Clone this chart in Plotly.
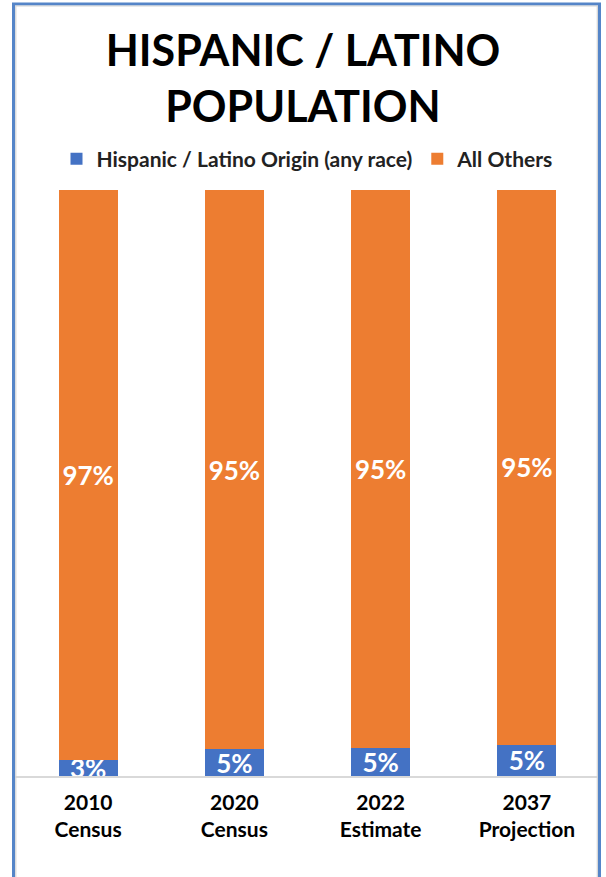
import plotly.graph_objects as go

categories = ["2010<br>Census", "2020<br>Census", "2022<br>Estimate", "2037<br>Projection"]
hispanic = [2.7, 4.6, 4.7, 5.3]
others = [97.3, 95.4, 95.3, 94.7]
series_names = ["Hispanic / Latino Origin (any race)", "All Others"]
colors = ["#4472C4", "#ED7D31"]

FONT = "Lato"
W, H = 606, 877
ML, MR, MT, MB = 15, 6, 190, 101
pw = W - ML - MR
ph = H - MT - MB

def px2paper_x(px):
    return (px - ML) / pw

def px2paper_y(py):
    return (H - MB - py) / ph

fig = go.Figure()
for name, vals, col in zip(series_names, [hispanic, others], colors):
    fig.add_trace(go.Bar(
        x=categories, y=vals, name="<b>" + name + "</b>", marker=dict(color=col, line=dict(width=0)),
        texttemplate="<b>%{y:.0f}%</b>", textposition="inside", insidetextanchor="middle",
        constraintext="none", textangle=0,
        insidetextfont=dict(family=FONT, size=26, color="white"),
        cliponaxis=True,
    ))

# frame
fig.add_shape(type="rect", xref="paper", yref="paper",
              x0=px2paper_x(13.5), x1=px2paper_x(599.5), y0=px2paper_y(4), y1=px2paper_y(900),
              line=dict(color="#5585C8", width=3))
fig.add_shape(type="rect", xref="paper", yref="paper",
              x0=px2paper_x(15.8), x1=px2paper_x(597.3), y0=px2paper_y(6), y1=px2paper_y(900),
              line=dict(color="#D4D4D4", width=1.2))

fig.update_layout(
    width=W, height=H,
    margin=dict(l=ML, r=MR, t=MT, b=MB, pad=0),
    paper_bgcolor="white", plot_bgcolor="white",
    barmode="stack", bargap=0.595,
    title=dict(text="<b>HISPANIC / LATINO<br>POPULATION</b>", x=0.5, xanchor="center",
               y=1 - 66 / H, yanchor="middle",
               font=dict(family=FONT, size=43, color="black")),
    legend=dict(orientation="h", x=0.5, xanchor="center", y=px2paper_y(159), yanchor="middle",
                font=dict(family=FONT, size=21, color="#222222"),
                itemwidth=30, traceorder="normal"),
    font=dict(family=FONT),
    showlegend=True,
)
fig.update_xaxes(showline=True, linecolor="#D9D9D9", linewidth=1.5, ticks="",
                 tickvals=categories, ticktext=["<b>" + c + "</b>" for c in categories],
                 tickfont=dict(family=FONT, size=21, color="black"), ticklabelstandoff=7,
                 showgrid=False, zeroline=False)
fig.update_yaxes(range=[0, 100], visible=False, showgrid=False, zeroline=False)

fig.write_html("out.html")
